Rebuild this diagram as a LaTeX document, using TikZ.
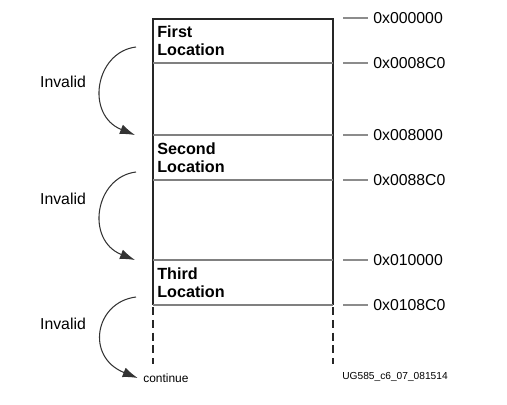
\documentclass[tikz,border=0pt]{standalone}
\usepackage{fontspec}
\setmainfont{Liberation Sans}
\usetikzlibrary{arrows.meta}
\begin{document}
\begin{tikzpicture}[x=0.02cm, y=-0.02cm,
    borde/.style={line width=0.9pt, black!85},
    separa/.style={line width=0.6pt, black!50},
    marca/.style={line width=0.6pt, black!45},
    direc/.style={anchor=west, inner sep=0pt, font=\fontsize{9}{10}\selectfont},
    ubic/.style={anchor=north west, align=left, inner sep=0pt, font=\fontsize{9.2}{10.3}\selectfont\bfseries},
    salto/.style={-{Latex[length=3mm,width=2mm]}, line width=0.6pt, black!80}]

    \useasboundingbox (0,0) rectangle (507,405);

    % Bloque de memoria
    \draw[borde] (153,305) -- (153,19) -- (333,19) -- (333,305);
    \draw[separa] (153,63) -- (333,63);
    \draw[separa] (153,135) -- (333,135);
    \draw[separa] (153,180) -- (333,180);
    \draw[separa] (153,260) -- (333,260);
    \draw[separa] (153,305) -- (333,305);
    \draw[borde, dash pattern=on 4.5pt off 2.8pt] (153,307) -- (153,364);
    \draw[borde, dash pattern=on 4.5pt off 2.8pt] (333,307) -- (333,364);

    % Ubicaciones
    \node[ubic] (primera) at (157,25) {First\\Location};
    \node[ubic] (segunda) at (157,142) {Second\\Location};
    \node[ubic] (tercera) at (157,267) {Third\\Location};

    % Direcciones
    \node[direc] (d0) at (373,18) {0x000000};
    \node[direc] (d1) at (373,63) {0x0008C0};
    \node[direc] (d2) at (373,135) {0x008000};
    \node[direc] (d3) at (373,180) {0x0088C0};
    \node[direc] (d4) at (373,260) {0x010000};
    \node[direc] (d5) at (373,305) {0x0108C0};
    \draw[marca] (343,18) -- ([xshift=-3pt]d0.west);
    \draw[marca] (343,63) -- ([xshift=-3pt]d1.west);
    \draw[marca] (343,135) -- ([xshift=-3pt]d2.west);
    \draw[marca] (343,180) -- ([xshift=-3pt]d3.west);
    \draw[marca] (343,260) -- ([xshift=-3pt]d4.west);
    \draw[marca] (343,305) -- ([xshift=-3pt]d5.west);

    % Saltos invalidos
    \coordinate (s1) at (136,47);
    \coordinate (e1) at (135,135);
    \coordinate (s2) at (136,172);
    \coordinate (e2) at (135,260);
    \coordinate (s3) at (136,297);
    \node[anchor=west, inner sep=0pt, font=\fontsize{6.8}{8}\selectfont] (sigue) at (143,378) {continue};
    \draw[salto] (s1) .. controls (95,52) and (85,115) .. (e1);
    \draw[salto] (s2) .. controls (95,177) and (85,240) .. (e2);
    \draw[salto] (s3) .. controls (95,302) and (85,357) .. ([xshift=-3pt]sigue.west);
    \node (inv1) at (63,82) {\fontsize{9}{10}\selectfont Invalid};
    \node (inv2) at (63,199) {\fontsize{9}{10}\selectfont Invalid};
    \node (inv3) at (63,324) {\fontsize{9}{10}\selectfont Invalid};

    % Etiqueta de figura
    \node[anchor=west, inner sep=0pt, font=\fontsize{5.8}{7}\selectfont] (fig) at (342,377) {UG585\_c6\_07\_081514};

\end{tikzpicture}
\end{document}
